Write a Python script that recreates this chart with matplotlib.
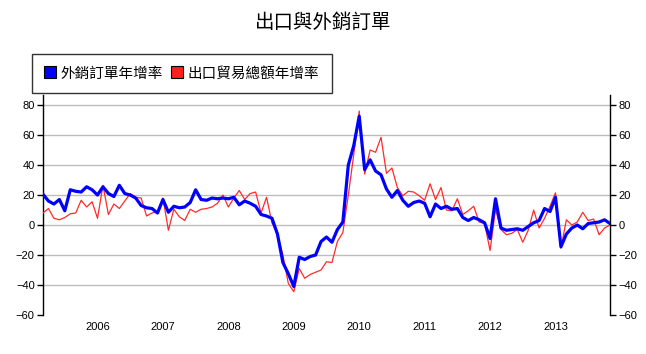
import matplotlib
matplotlib.use("Agg")
import matplotlib.pyplot as plt
import numpy as np
from matplotlib.lines import Line2D

# Monthly data, Mar 2005 .. Nov 2013
start_year, start_month = 2005, 3
orders_yoy = [
    20.5, 16, 14, 17, 9.5, 23.5, 22.5, 22, 25.5, 23.5,          # 2005 Mar-Dec
    20, 25.5, 21, 19, 26.5, 21, 20, 18, 13, 11.5, 11, 8,          # 2006
    17, 8.5, 12.5, 11.5, 12, 15, 23.5, 17, 16.5, 18, 17.5, 18,    # 2007
    17.5, 18.5, 13.5, 16, 14.5, 12.5, 7, 6, 4.5, -6, -25, -32.5,  # 2008
    -41, -21.5, -23, -21, -20, -11, -8, -11.5, -3, 2, 40, 53,     # 2009
    72.5, 37, 43.5, 36, 33.5, 24, 18.5, 23, 16.5, 12.5, 15, 16,   # 2010
    14.5, 5.5, 14, 11, 12.5, 10.5, 11, 5, 3, 5, 3.5, 1.5,         # 2011
    -9, 17.5, -2, -3.5, -3, -2.5, -3.5, -1, 1.5, 3, 11, 9,        # 2012
    18.5, -14.5, -6, -2, 0, -2.5, 1, 1.5, 2, 3.5, 1,              # 2013 Jan-Nov
]
exports_yoy = [
    8, 11, 4.5, 3.5, 5, 7.5, 8, 16.5, 12, 15.5,                   # 2005 Mar-Dec
    4.5, 26.5, 7, 14, 11, 16, 21, 18.5, 18, 6, 8, 9,              # 2006
    18, -3.5, 10.5, 5.5, 3, 10.5, 8.5, 10.5, 11, 12, 14.5, 20,    # 2007
    12, 18, 23, 17, 21, 22, 8, 18.5, 1.5, -6, -20, -39,           # 2008
    -44.5, -29, -35.5, -33, -31.5, -30, -24.5, -25, -11, -5, 20, 47,  # 2009
    76, 34, 50, 48.5, 58.5, 34.5, 38, 25, 19.5, 22.5, 22, 19.5,   # 2010
    16.5, 27.5, 17, 25, 10, 9.5, 17.5, 7, 9.5, 12.5, 2, 1,        # 2011
    -17, 10.5, -3, -6.5, -5.5, -3, -11.5, -3.5, 10, -2, 4.5, 12.5,  # 2012
    21.5, -15.5, 3.5, 0, 2, 8.5, 3, 4, -6.5, -2, 0,               # 2013 Jan-Nov
]
year_ticks = [2006, 2007, 2008, 2009, 2010, 2011, 2012, 2013]
y_ticks = [-60, -40, -20, 0, 20, 40, 60, 80]
title = "出口與外銷訂單"
label_orders = "外銷訂單年增率"
label_exports = "出口貿易總額年增率"

n = len(orders_yoy)
x = start_year + (start_month - 1 + np.arange(n)) / 12.0

cjk = ["Noto Sans CJK TC", "DejaVu Sans"]
plt.rcParams["font.family"] = ["Liberation Sans", "DejaVu Sans"]

fig = plt.figure(figsize=(6.46, 3.54), dpi=100)
ax = fig.add_axes([43 / 646, 1 - 315 / 354, (610 - 43) / 646, (315 - 95) / 354])

ax.plot(x, exports_yoy, color="#ff2a2a", lw=0.9, zorder=3, solid_joinstyle="round")
ax.plot(x, orders_yoy, color="#0000ff", lw=2.3, zorder=4, solid_joinstyle="round")

ax.set_xlim(x[0], x[-1])
ax.set_ylim(-60, 86.7)
ax.set_yticks(y_ticks)
ax.set_xticks(year_ticks)
ax.set_xticklabels([str(y) for y in year_ticks])
for yv in y_ticks[1:]:
    ax.axhline(yv, color="#bdbdbd", lw=1, zorder=1)

ax.spines["top"].set_visible(False)
ax.spines["bottom"].set_visible(False)
ax.spines["left"].set_linewidth(1)
ax.spines["right"].set_linewidth(1)
ax.tick_params(axis="x", length=0, labelsize=8, pad=5)
ax.tick_params(axis="y", length=4, width=1, labelsize=8, pad=2,
               left=True, right=True, labelleft=True, labelright=True)

fig.text(0.5, 1 - 22 / 354, title, ha="center", va="center",
         fontsize=14, family=cjk)

handles = [
    Line2D([], [], marker="s", ls="none", markersize=8, markerfacecolor="#0000ff",
           markeredgecolor="black", markeredgewidth=0.8),
    Line2D([], [], marker="s", ls="none", markersize=8, markerfacecolor="#ff2020",
           markeredgecolor="black", markeredgewidth=0.8),
]
leg = fig.legend(handles, [label_orders, label_exports], loc="upper left",
                 bbox_to_anchor=(32 / 646, 1 - 54 / 354), ncol=2, frameon=True,
                 fancybox=False, prop={"family": cjk, "size": 10.5},
                 handlelength=0.8, handletextpad=0.3, columnspacing=0.6,
                 borderpad=0.85, borderaxespad=0)
leg.get_frame().set_edgecolor("black")
leg.get_frame().set_linewidth(1)

fig.savefig("out.png", dpi=100)
